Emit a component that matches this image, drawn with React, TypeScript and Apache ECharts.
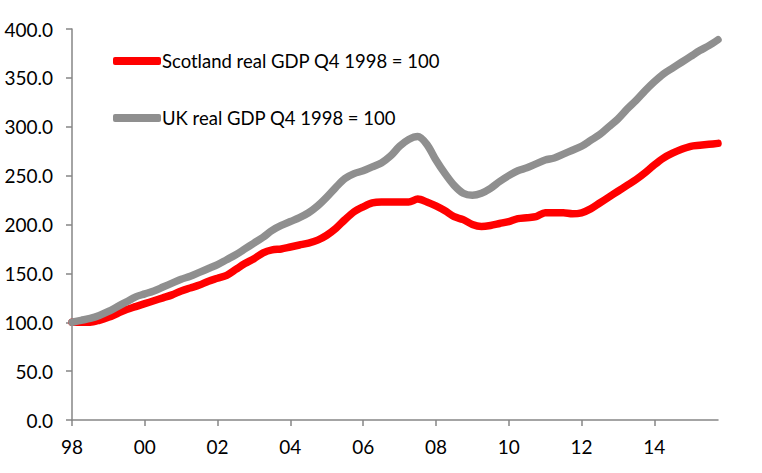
import React, { useEffect, useRef } from "react";
import * as echarts from "echarts";

const seriesNames = ["Scotland real GDP Q4 1998 = 100", "UK real GDP Q4 1998 = 100"];

const scotland = [
  100, 100, 100, 102, 105, 109, 113, 116, 119, 122, 125, 128, 132, 135, 138, 142,
  145, 148, 154, 160, 165, 171, 174, 175, 177, 179, 181, 184, 189, 196, 205, 213,
  218, 222, 223, 223, 223, 223, 226, 223, 219, 214, 208, 205, 200, 198, 199, 201,
  203, 206, 207, 208, 212, 212, 212, 211, 212, 216, 222, 228, 234, 240, 246, 253,
  261, 268, 273, 277, 280, 281, 282, 283,
];

const uk = [
  100, 102, 104, 107, 111, 116, 121, 126, 129, 132, 136, 140, 144, 147, 151, 155,
  159, 164, 169, 175, 181, 187, 194, 199, 203, 207, 212, 219, 228, 238, 247, 252,
  255, 259, 263, 270, 280, 287, 290, 282, 266, 252, 240, 232, 230, 232, 237, 244,
  250, 255, 258, 262, 266, 268, 272, 276, 280, 286, 292, 300, 308, 318, 327, 337,
  346, 354, 360, 366, 372, 378, 383, 389,
];

const tickLabels = ["98", "00", "02", "04", "06", "08", "10", "12", "14"];

// quarterly categories, one per data point
const categories: string[] = scotland.map((_, i) => "q" + i);

export default function App() {
  const ref = useRef<HTMLDivElement>(null);
  useEffect(() => {
    if (!ref.current) return;
    const chart = echarts.init(ref.current, undefined, { renderer: "svg" });
    const font = "Lato, 'Noto Sans', sans-serif";
    chart.setOption({
      animation: false,
      backgroundColor: "#ffffff",
      grid: { left: 72, right: 44, top: 29, bottom: 53, containLabel: false },
      legend: {
        orient: "vertical",
        left: 108,
        top: 45,
        itemWidth: 48,
        itemHeight: 8,
        itemGap: 35,
        icon: "roundRect",
        textStyle: { fontFamily: font, fontSize: 18.5, color: "#000", lineHeight: 22, padding: [0, 0, 0, -4] },
        data: seriesNames,
      },
      xAxis: {
        type: "category",
        boundaryGap: false,
        data: categories,
        axisLine: { lineStyle: { color: "#868686", width: 1.5 } },
        axisTick: {
          show: true,
          length: 6,
          interval: (i: number) => i % 8 === 0,
          lineStyle: { color: "#868686", width: 1.5 },
        },
        axisLabel: {
          interval: (i: number) => i % 8 === 0,
          formatter: (_v: string, i: number) => tickLabels[i / 8] ?? "",
          fontFamily: font,
          fontSize: 19,
          color: "#000",
          margin: 17,
        },
        splitLine: { show: false },
      },
      yAxis: {
        type: "value",
        min: 0,
        max: 400,
        interval: 50,
        axisLine: { show: true, lineStyle: { color: "#868686", width: 1.5 } },
        axisTick: { show: true, length: 6, lineStyle: { color: "#868686", width: 1.5 } },
        axisLabel: {
          formatter: (v: number) => v.toFixed(1),
          fontFamily: font,
          fontSize: 19,
          color: "#000",
          margin: 19,
        },
        splitLine: { show: false },
      },
      series: [
        {
          name: seriesNames[0],
          type: "line",
          data: scotland,
          symbol: "none",
          smooth: 0.3,
          itemStyle: { color: "#ff0000" },
          lineStyle: { color: "#ff0000", width: 7.5, cap: "round", join: "round" },
        },
        {
          name: seriesNames[1],
          type: "line",
          data: uk,
          symbol: "none",
          smooth: 0.3,
          itemStyle: { color: "#8f8f8f" },
          lineStyle: { color: "#8f8f8f", width: 7.5, cap: "round", join: "round" },
        },
      ],
    });
    return () => chart.dispose();
  }, []);
  return (
    <div
      ref={ref}
      style={{ position: "fixed", left: 0, top: 0, width: 762, height: 473 }}
    />
  );
}
